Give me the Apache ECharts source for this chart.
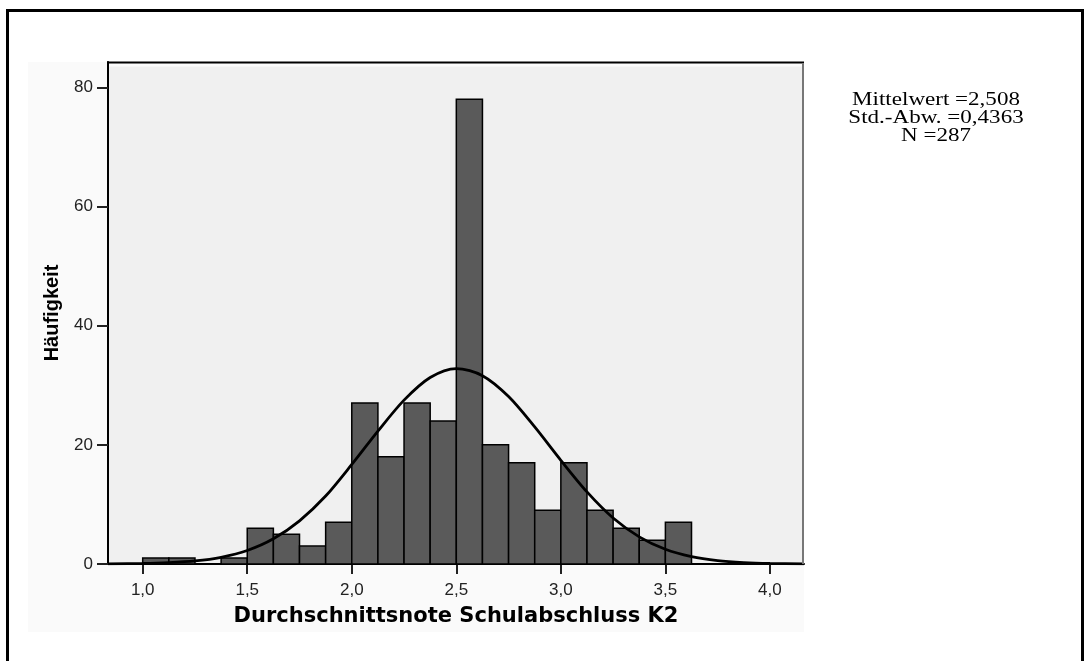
<!DOCTYPE html>
<html>
<head>
<meta charset="utf-8">
<script src="https://cdn.jsdelivr.net/npm/echarts@6/dist/echarts.min.js"></script>
<style>
html,body{margin:0;padding:0;background:#fff;}
#chart{width:1090px;height:661px;}
</style>
</head>
<body>
<div id="chart"></div>
<script>
// ---- data ----
const binEdges = [1.000,1.125,1.250,1.375,1.500,1.625,1.750,1.875,2.000,2.125,2.250,2.375,2.500,2.625,2.750,2.875,3.000,3.125,3.250,3.375,3.500,3.625];
const binCounts = [1,1,0,1,6,5,3,7,27,18,27,24,78,20,17,9,17,9,6,4,7];
const curveX = [0.834,1.0,1.125,1.25,1.375,1.5,1.625,1.75,1.875,2.0,2.125,2.25,2.375,2.5,2.625,2.75,2.875,3.0,3.125,3.25,3.375,3.5,3.625,3.75,3.875,4.0,4.163];
const curveY = [0.02,0.08,0.22,0.51,1.13,2.27,4.23,7.25,11.4,16.7,22.3,27.5,31.3,32.8,31.6,28.1,23.0,17.4,12.1,7.72,4.56,2.47,1.24,0.57,0.24,0.09,0.03];
const xTicks = [1.0,1.5,2.0,2.5,3.0,3.5,4.0];
const yTicks = [0,20,40,60,80];
const xTitle = 'Durchschnittsnote Schulabschluss K2';
const yTitle = 'Häufigkeit';
const statLines = ['Mittelwert =2,508','Std.-Abw. =0,4363','N =287'];

// ---- build ----
const barData = binCounts.map((c,i)=>[binEdges[i], binEdges[i+1], c]).filter(d=>d[2]>0);
const lineData = curveX.map((x,i)=>[x, curveY[i]]);

const chart = echarts.init(document.getElementById('chart'), null, {renderer:'canvas'});
const option = {
  backgroundColor:'#ffffff',
  animation:false,
  grid:{left:108, right:286, top:62, bottom:97, show:true, backgroundColor:'#f0f0f0', borderWidth:0},
  xAxis:{
    type:'value', min:0.834, max:4.163,
    axisLine:{show:true, onZero:false, lineStyle:{color:'#000', width:2}},
    axisTick:{show:true, length:10, customValues:xTicks, lineStyle:{color:'#222', width:2}},
    axisLabel:{customValues:xTicks, margin:18, color:'#222', fontFamily:'Liberation Sans', fontSize:17,
      formatter:v=>v.toFixed(1).replace('.',',')},
    splitLine:{show:false},
    name:xTitle, nameLocation:'middle', nameGap:42,
    nameTextStyle:{fontFamily:'DejaVu Sans', fontWeight:'bold', fontSize:21, color:'#000'}
  },
  yAxis:{
    type:'value', min:0, max:84.24,
    axisLine:{show:true, lineStyle:{color:'#000', width:2}},
    axisTick:{show:true, length:11, customValues:yTicks, lineStyle:{color:'#222', width:2}},
    axisLabel:{customValues:yTicks, margin:15, color:'#222', fontFamily:'Liberation Sans', fontSize:17},
    splitLine:{show:false},
    name:yTitle, nameLocation:'middle', nameGap:46, nameRotate:90,
    nameTextStyle:{fontFamily:'Liberation Sans', fontWeight:'bold', fontSize:20, color:'#000'}
  },
  graphic:[
    {type:'rect', z:-10, silent:true, shape:{x:28, y:62, width:776, height:570}, style:{fill:'#fafafa'}},
    {type:'rect', z:100, silent:true, shape:{x:7.5, y:10.5, width:1075, height:700}, style:{fill:null, stroke:'#000', lineWidth:3}},
    {type:'line', z:100, silent:true, shape:{x1:107, y1:62.5, x2:804, y2:62.5}, style:{stroke:'#000', lineWidth:2}},
    {type:'rect', z:99, silent:true, shape:{x:109, y:63.5, width:694, height:3}, style:{fill:'#fbfbfb'}},
    {type:'line', z:100, silent:true, shape:{x1:803, y1:64, x2:803, y2:564}, style:{stroke:'#777', lineWidth:2}},
  ].concat(statLines.map((t,i)=>({
    type:'text', z:100, x:936, y:[100,118,136][i], scaleX:1.28, silent:true,
    style:{text:t, fill:'#000', font:'18px "Liberation Serif"', textAlign:'center', textVerticalAlign:'middle'}
  }))),
  series:[
    {
      type:'custom', z:2,
      data:barData,
      encode:{x:[0,1], y:2},
      renderItem:function(params, api){
        const p0 = api.coord([api.value(0), api.value(2)]);
        const p1 = api.coord([api.value(1), 0]);
        return {type:'rect', shape:{x:p0[0], y:p0[1], width:p1[0]-p0[0], height:p1[1]-p0[1]},
          style:{fill:'#5a5a5a', stroke:'#000', lineWidth:1.5}};
      }
    },
    {
      type:'line', z:3, data:lineData, smooth:0.3, showSymbol:false, clip:true,
      lineStyle:{color:'#000', width:2.8}
    }
  ]
};
chart.setOption(option);
</script>
</body>
</html>
